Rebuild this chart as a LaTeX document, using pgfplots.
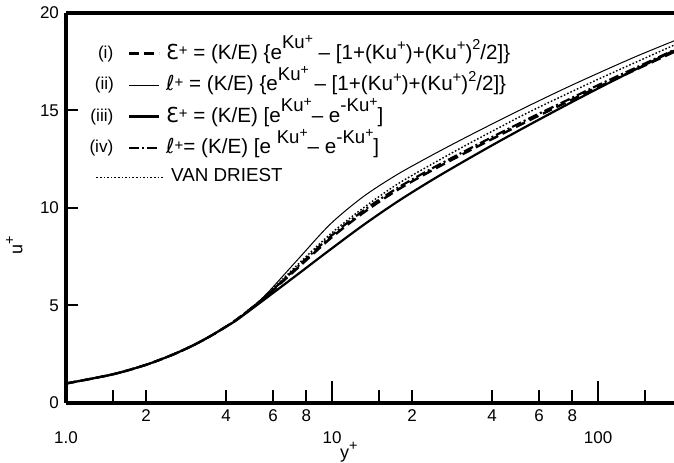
\documentclass[border=0pt]{standalone}
\usepackage{fontspec}
\setmainfont{Liberation Sans}
\newfontfamily\sym{DejaVu Sans}
\usepackage{pgfplots}
\pgfplotsset{compat=1.18}
\newcommand{\Sup}[1]{\raisebox{0.85ex}{\fontsize{7.2}{8}\selectfont #1}}
\newcommand{\SKu}{\raisebox{0.95ex}{\fontsize{9.3}{10}\selectfont Ku\raisebox{0.55ex}{\fontsize{7}{8}\selectfont +}}}
\newcommand{\KuN}{Ku\raisebox{0.75ex}{\fontsize{7.5}{8}\selectfont +}}
\newcommand{\Pl}{\raisebox{0.3ex}{\fontsize{7.5}{8}\selectfont +}}
\newcommand{\LE}[1]{\rule[-3pt]{0pt}{10pt}\smash{#1}}
\pgfplotsset{
  legi/.style={legend image code/.code={\node[anchor=east, inner sep=0pt, font=\fontsize{8.6}{9}\selectfont] at (-1pt,0pt) {#1}; \draw[##1] (6.5pt,0pt) -- (21.5pt,0pt);}},
  vdleg/.style={legend image code/.code={\draw[##1] (-10pt,0pt) -- (23.5pt,0pt);}},
}
\begin{document}
\begin{tikzpicture}
\begin{semilogxaxis}[
  name=ax,
  scale only axis, width=304pt, height=195pt,
  xmin=1, xmax=193, ymin=0, ymax=20,
  axis x line=box, axis y line=left,
  axis line style={-, line width=1.6pt},
  xtick pos=left, ytick pos=left, tick align=inside,
  xminorticks=false, yminorticks=false,
  xtick={1.5,2,4,6,8,15,20,40,60,80,150},
  xticklabels={,2,4,6,8,,2,4,6,8,},
  extra x ticks={1,10,100},
  extra x tick labels={1.0,10,100},
  extra x tick style={major tick length=11pt, xticklabel style={yshift=-11pt}},
  ytick={0,5,10,15,20},
  yticklabels={0,5,10,15,20},
  major tick length=6.25pt,
  tick style={line width=1pt, black},
  tick label style={font=\fontsize{8.5}{10}\selectfont},
  xlabel={y\Sup{+}}, ylabel={u\Sup{+}},
  every axis x label/.style={at={(axis description cs:0.465,-0.127)}, anchor=center, font=\fontsize{9}{10}\selectfont},
  every axis y label/.style={at={(axis description cs:-0.085,0.405)}, anchor=center, rotate=90, font=\fontsize{9}{10}\selectfont},
  legend cell align=left,
  legend style={at={(axis description cs:0.038,0.924)}, anchor=north west, draw=none, fill=none,
    font=\fontsize{10.3}{11}\selectfont, inner sep=0pt, row sep=5.25pt, column sep=0pt,
    nodes={inner sep=1pt}},
  no markers,
]
\addplot[black, line width=1.2pt, dash pattern=on 5pt off 2.5pt, smooth, legi={(i)}]
  coordinates {(1,1.0) (1.5,1.47) (2,1.96) (2.5,2.46) (3,2.95) (3.5,3.44) (4,3.92) (4.4,4.3) (5.52,5.35) (7.37,6.88) (9.83,8.42) (13.1,9.75) (17.5,10.9) (23.4,11.88) (31.2,12.78) (41.5,13.65) (55.6,14.52) (75,15.38) (100,16.2) (140,17.12) (193,18.0)};
\addlegendentry{\LE{{\sym Ɛ}\Pl{} = (K/E) \{e\SKu{} -- [1+(\KuN)+(\KuN)\Sup{2}/2]\}}}
\addplot[black, line width=0.5pt, smooth, legi={(ii)}]
  coordinates {(1,1.0) (1.5,1.47) (2,1.96) (2.5,2.46) (3,2.95) (3.5,3.44) (4,3.92) (4.4,4.3) (5.52,5.43) (7.37,7.3) (9.83,9.16) (13.1,10.58) (17.5,11.7) (23.4,12.66) (31.2,13.56) (41.5,14.42) (55.6,15.28) (75,16.13) (100,16.91) (140,17.79) (193,18.57)};
\addlegendentry{\LE{{\sym ℓ}\Pl{} = (K/E) \{e\SKu{} -- [1+(\KuN)+(\KuN)\Sup{2}/2]\}}}
\addplot[black, line width=1.1pt, smooth, legi={(iii)}]
  coordinates {(1,1.0) (1.5,1.47) (2,1.96) (2.5,2.46) (3,2.95) (3.5,3.44) (4,3.92) (4.4,4.27) (5.52,5.27) (7.37,6.56) (9.83,7.86) (13.1,9.12) (17.5,10.3) (23.4,11.38) (31.2,12.38) (41.5,13.34) (55.6,14.29) (75,15.24) (100,16.13) (140,17.14) (193,18.07)};
\addlegendentry{\LE{{\sym Ɛ}\Pl{} = (K/E) [e\SKu{}-- e\raisebox{0.95ex}{\fontsize{9.3}{10}\selectfont -}\SKu]}}
\addplot[black, line width=1.1pt, dash pattern=on 5pt off 1.5pt on 1pt off 1.5pt, smooth, legi={(iv)}]
  coordinates {(1,1.0) (1.5,1.47) (2,1.96) (2.5,2.46) (3,2.95) (3.5,3.44) (4,3.92) (4.4,4.3) (5.52,5.37) (7.37,6.95) (9.83,8.52) (13.1,9.86) (17.5,11.0) (23.4,11.98) (31.2,12.88) (41.5,13.75) (55.6,14.62) (75,15.47) (100,16.3) (140,17.22) (193,18.1)};
\addlegendentry{\LE{{\sym ℓ}\Pl{}= (K/E) [e \SKu{}-- e\raisebox{0.95ex}{\fontsize{9.3}{10}\selectfont -}\SKu]}}
\addplot[black, line width=0.7pt, dash pattern=on 0.8pt off 1pt, smooth, vdleg]
  coordinates {(1,1.0) (1.5,1.47) (2,1.96) (2.5,2.46) (3,2.95) (3.5,3.44) (4,3.92) (4.4,4.3) (5.52,5.4) (7.37,7.05) (9.83,8.65) (13.1,10.0) (17.5,11.2) (23.4,12.2) (31.2,13.15) (41.5,14.05) (55.6,14.95) (75,15.8) (100,16.6) (140,17.5) (193,18.35)};
\addlegendentry[font=\fontsize{9.4}{11}\selectfont]{\hspace{2.5pt}\raisebox{0pt}[5pt][1pt]{VAN DRIEST}}
\end{semilogxaxis}
\pgfresetboundingbox
\path ([xshift=-33pt,yshift=-30pt]ax.south west) rectangle ([yshift=6.5pt]ax.north east);
\end{tikzpicture}
\end{document}
